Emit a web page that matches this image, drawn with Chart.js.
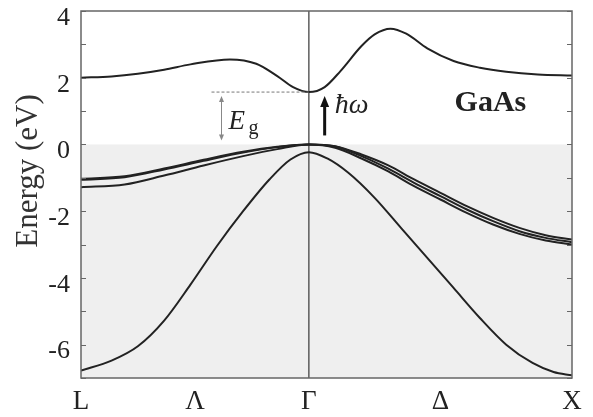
<!DOCTYPE html>
<html>
<head>
<meta charset="utf-8">
<script src="https://cdn.jsdelivr.net/npm/chart.js@4.4.0/dist/chart.umd.min.js"></script>
<style>
  html, body { margin: 0; padding: 0; background: #fff; }
  #wrap { width: 593px; height: 417px; }
</style>
</head>
<body>
<div id="wrap"><canvas id="bands" width="593" height="417"></canvas></div>
<script>
// k along L -> Gamma -> X (Gamma at 0, L at -sqrt(3)/2, X at 1)
const xTickValues = [-0.866, -0.433, 0, 0.5, 1];
const xTickLabels = ['L', 'Λ', 'Γ', 'Δ', 'X'];
const yTickValues = [-7, -6, -5, -4, -3, -2, -1, 0, 1, 2, 3, 4];
const yTickLabels = [-6, -4, -2, 0, 2, 4];

// conduction band
const kCond = [-0.866, -0.75, -0.65, -0.55, -0.45, -0.3, -0.2, -0.12, -0.06, 0, 0.06, 0.12, 0.2, 0.25, 0.31, 0.37, 0.45, 0.55, 0.65, 0.75, 0.87, 1];
const eCond = [2.0, 2.04, 2.12, 2.24, 2.4, 2.55, 2.42, 2.05, 1.72, 1.57, 1.72, 2.2, 2.95, 3.3, 3.47, 3.32, 2.88, 2.5, 2.3, 2.18, 2.1, 2.07];

// heavy / light hole bands
const kVal = [-0.866, -0.7, -0.55, -0.4, -0.25, -0.12, 0, 0.1, 0.2, 0.3, 0.4, 0.5, 0.6, 0.7, 0.8, 0.9, 1];
const eVal1 = [-1.03, -0.95, -0.72, -0.46, -0.22, -0.07, 0, -0.05, -0.3, -0.62, -1.05, -1.45, -1.85, -2.2, -2.5, -2.72, -2.85];
const eVal2 = [-1.06, -0.98, -0.75, -0.49, -0.24, -0.08, 0, -0.06, -0.35, -0.72, -1.15, -1.55, -1.95, -2.3, -2.6, -2.8, -2.93];
const eVal3 = [-1.28, -1.2, -0.93, -0.63, -0.35, -0.14, 0, -0.1, -0.42, -0.8, -1.25, -1.65, -2.05, -2.4, -2.68, -2.88, -3.0];

// lowest band
const kLow = [-0.866, -0.75, -0.65, -0.55, -0.45, -0.35, -0.25, -0.15, -0.07, 0, 0.07, 0.15, 0.25, 0.35, 0.45, 0.55, 0.65, 0.75, 0.85, 0.93, 1];
const eLow = [-6.78, -6.48, -6.05, -5.28, -4.2, -3.05, -2.0, -1.05, -0.45, -0.23, -0.42, -0.85, -1.6, -2.5, -3.4, -4.3, -5.2, -6.0, -6.55, -6.82, -6.92];

const gapEnergy = 1.57;
const serif = '"Liberation Serif", "Times New Roman", serif';

function toPoints(ks, es) {
  return ks.map((k, i) => ({ x: k, y: es[i] }));
}

function band(ks, es) {
  return {
    data: toPoints(ks, es),
    borderColor: '#222',
    borderWidth: 2,
    pointRadius: 0,
    fill: false,
    cubicInterpolationMode: 'monotone'
  };
}

function arrowHead(ctx, x, y, up, w, h) {
  ctx.beginPath();
  ctx.moveTo(x, y);
  ctx.lineTo(x - w / 2, up ? y + h : y - h);
  ctx.lineTo(x + w / 2, up ? y + h : y - h);
  ctx.closePath();
  ctx.fill();
}

const framePlugin = {
  id: 'frame',
  beforeDatasetsDraw(chart) {
    const { ctx, chartArea: a, scales: { x, y } } = chart;
    ctx.save();
    // occupied states shaded
    ctx.fillStyle = '#efefef';
    ctx.fillRect(a.left, y.getPixelForValue(0), a.right - a.left, a.bottom - y.getPixelForValue(0));
    // Gamma line
    ctx.strokeStyle = '#444';
    ctx.lineWidth = 1.3;
    ctx.beginPath();
    ctx.moveTo(x.getPixelForValue(0), a.top);
    ctx.lineTo(x.getPixelForValue(0), a.bottom);
    ctx.stroke();
    ctx.restore();
  },
  afterDatasetsDraw(chart) {
    const { ctx, chartArea: a, scales: { x, y } } = chart;
    ctx.save();
    ctx.strokeStyle = '#666';
    ctx.lineWidth = 1.5;
    ctx.strokeRect(a.left, a.top, a.right - a.left, a.bottom - a.top);
    ctx.lineWidth = 1;
    ctx.beginPath();
    yTickValues.forEach(v => {
      const py = Math.round(y.getPixelForValue(v)) + 0.5;
      ctx.moveTo(a.left, py);
      ctx.lineTo(a.left + 5, py);
      ctx.moveTo(a.right, py);
      ctx.lineTo(a.right - 5, py);
    });
    ctx.stroke();

    // axis title
    ctx.save();
    ctx.translate(29, 171);
    ctx.rotate(-Math.PI / 2);
    ctx.fillStyle = '#333';
    ctx.font = '31px ' + serif;
    ctx.textAlign = 'center';
    ctx.textBaseline = 'middle';
    ctx.fillText('Energy (eV)', 0, 0);
    ctx.restore();

    // band gap marker
    const gx = x.getPixelForValue(0);
    const gy = y.getPixelForValue(gapEnergy);
    ctx.strokeStyle = '#777';
    ctx.setLineDash([3, 2]);
    ctx.beginPath();
    ctx.moveTo(x.getPixelForValue(-0.37), gy);
    ctx.lineTo(gx, gy);
    ctx.stroke();
    ctx.setLineDash([]);

    const ax = x.getPixelForValue(-0.332);
    const aTop = gy + 4;
    const aBot = y.getPixelForValue(0) - 4;
    ctx.strokeStyle = '#888';
    ctx.fillStyle = '#888';
    ctx.beginPath();
    ctx.moveTo(ax, aTop + 3);
    ctx.lineTo(ax, aBot - 3);
    ctx.stroke();
    arrowHead(ctx, ax, aTop, true, 5, 6);
    arrowHead(ctx, ax, aBot, false, 5, 6);

    ctx.fillStyle = '#222';
    ctx.textBaseline = 'alphabetic';
    ctx.font = 'italic 27px ' + serif;
    ctx.fillText('E', ax + 7, y.getPixelForValue(0.45));
    ctx.font = '20px ' + serif;
    ctx.fillText('g', ax + 27, y.getPixelForValue(0.3));

    // photon arrow
    const px = x.getPixelForValue(0.06);
    ctx.strokeStyle = '#111';
    ctx.fillStyle = '#111';
    ctx.lineWidth = 3;
    ctx.beginPath();
    ctx.moveTo(px, y.getPixelForValue(0.27));
    ctx.lineTo(px, y.getPixelForValue(1.2));
    ctx.stroke();
    arrowHead(ctx, px, y.getPixelForValue(1.45), true, 9, 11);

    ctx.fillStyle = '#222';
    ctx.font = 'italic 28px ' + serif;
    ctx.fillText('ħω', px + 10, y.getPixelForValue(0.95));

    ctx.font = 'bold 30px ' + serif;
    ctx.textAlign = 'center';
    ctx.fillText('GaAs', x.getPixelForValue(0.69), y.getPixelForValue(1.0));
    ctx.restore();
  }
};

new Chart(document.getElementById('bands'), {
  type: 'line',
  data: {
    datasets: [
      band(kCond, eCond),
      band(kVal, eVal1),
      band(kVal, eVal2),
      band(kVal, eVal3),
      band(kLow, eLow)
    ]
  },
  options: {
    responsive: false,
    animation: false,
    layout: {
      autoPadding: false,
      padding: { top: 11, right: 21, bottom: 0, left: 0 }
    },
    plugins: {
      legend: { display: false },
      tooltip: { enabled: false }
    },
    scales: {
      x: {
        type: 'linear',
        min: -0.866,
        max: 1,
        afterBuildTicks(scale) {
          scale.ticks = xTickValues.map(v => ({ value: v }));
        },
        afterFit(scale) {
          scale.height = 39;
          scale.paddingLeft = 0;
          scale.paddingRight = 0;
        },
        ticks: {
          autoSkip: false,
          maxRotation: 0,
          padding: 8,
          color: '#222',
          font: { family: serif, size: 27 },
          callback(value, index) {
            return xTickLabels[index];
          }
        },
        grid: { display: false, drawTicks: false },
        border: { display: false }
      },
      y: {
        type: 'linear',
        min: -7,
        max: 4,
        afterBuildTicks(scale) {
          scale.ticks = yTickValues.map(v => ({ value: v }));
        },
        afterFit(scale) {
          scale.width = 81;
          scale.paddingTop = 0;
          scale.paddingBottom = 0;
        },
        ticks: {
          autoSkip: false,
          padding: 11,
          labelOffset: 7,
          color: '#222',
          font: { family: serif, size: 26 },
          callback(value) {
            return yTickLabels.includes(value) ? String(value) : '';
          }
        },
        grid: { display: false, drawTicks: false },
        border: { display: false }
      }
    }
  },
  plugins: [framePlugin]
});
</script>
</body>
</html>
